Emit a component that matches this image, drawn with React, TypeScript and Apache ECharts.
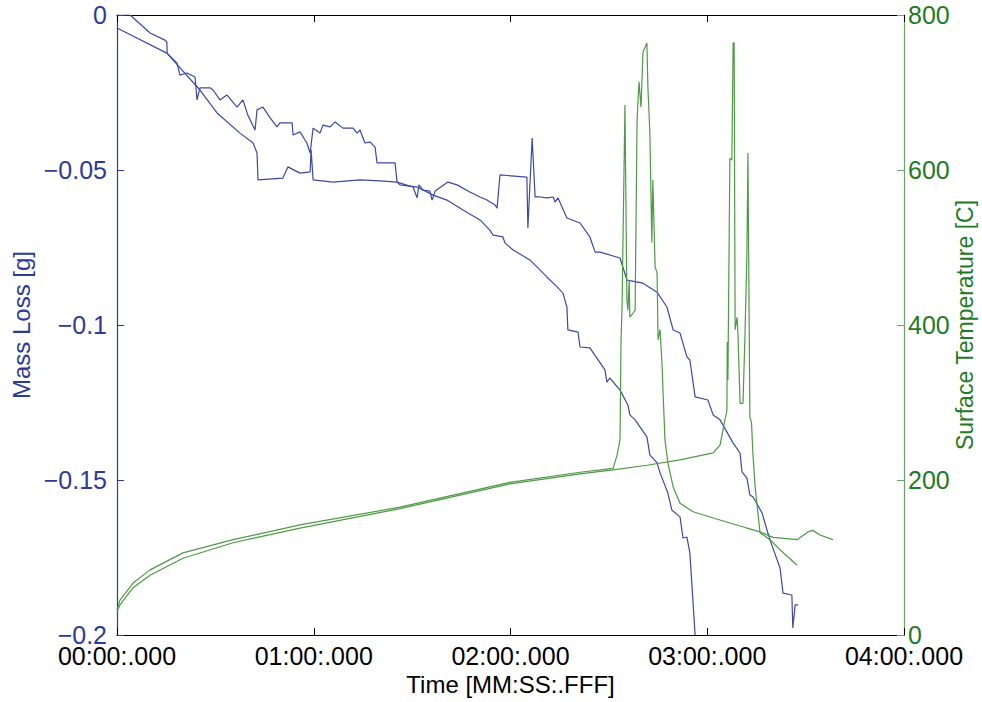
import React, { useEffect, useRef } from "react";
import * as echarts from "echarts";

// Time in seconds, mass loss in g
const massRunA: [number, number][] = [
  [0, -0.0042], [15.2, -0.0123], [25.3, -0.0242], [30.5, -0.0316], [37.5, -0.0381],
  [41.5, -0.0413], [42.7, -0.0445], [43.0, -0.0532], [50.6, -0.0526], [52.1, -0.049],
  [55.8, -0.051], [58.9, -0.0506], [59.2, -0.0435], [59.8, -0.0532], [65.9, -0.0539],
  [74.1, -0.0532], [80.2, -0.0535], [85.4, -0.0539], [86.3, -0.0548], [91.5, -0.0555],
  [96.4, -0.0581], [100.6, -0.0597], [105.5, -0.0629], [110.7, -0.0661], [113.7, -0.0694],
  [114.7, -0.071], [117.7, -0.0716], [118.3, -0.0735], [120.8, -0.0758], [125.9, -0.079],
  [131.1, -0.0845], [134.2, -0.0877], [136.0, -0.0897], [137.2, -0.0942], [137.5, -0.1016],
  [140.6, -0.1023], [141.2, -0.1071], [144.2, -0.1074], [148.8, -0.1145], [149.4, -0.1184],
  [150.3, -0.1171], [153.4, -0.121], [155.8, -0.1258], [156.4, -0.129], [158.0, -0.1306],
  [161.6, -0.1361], [162.5, -0.1419], [164.7, -0.1445], [165.6, -0.1477], [168.0, -0.1542],
  [169.2, -0.1597], [171.7, -0.1619], [172.6, -0.1687], [173.8, -0.1684], [174.7, -0.1735],
  [176.3, -0.2],
];

const massRunB: [number, number][] = [
  [0, 0], [4.0, 0], [10.1, -0.0058], [14.6, -0.0081], [15.2, -0.0087], [15.3, -0.0123],
  [18.3, -0.0155], [19.2, -0.0194], [21.3, -0.0187], [23.8, -0.02], [24.4, -0.0274],
  [25.3, -0.0235], [28.4, -0.0235], [29.3, -0.0242], [31.4, -0.0274], [33.5, -0.0258],
  [36.6, -0.0297], [38.4, -0.0274], [39.9, -0.0323], [42.1, -0.0371], [42.7, -0.0306],
  [44.5, -0.0297], [46.7, -0.0332], [48.8, -0.0361], [49.7, -0.0348], [53.4, -0.0348],
  [53.7, -0.0387], [55.8, -0.0377], [57.9, -0.0413], [58.9, -0.0445], [59.8, -0.0365],
  [61.9, -0.0381], [62.8, -0.0355], [65.0, -0.0361], [66.5, -0.0345], [68.9, -0.0365],
  [72.0, -0.0365], [73.2, -0.0381], [74.1, -0.0371], [75.6, -0.0413], [77.2, -0.041],
  [78.7, -0.0426], [79.3, -0.0477], [84.8, -0.0477], [85.4, -0.0539], [90.3, -0.0555],
  [91.5, -0.059], [92.1, -0.0548], [93.3, -0.0565], [95.4, -0.0568], [96.1, -0.0597],
  [97.0, -0.0568], [100.9, -0.0539], [103.7, -0.0548], [107.6, -0.0571], [110.7, -0.0587],
  [112.8, -0.0597], [115.3, -0.0613], [115.9, -0.0623], [116.8, -0.0516], [125.0, -0.0523],
  [125.3, -0.0687], [126.6, -0.0397], [127.5, -0.0587], [129.0, -0.0587], [131.1, -0.059],
  [133.0, -0.0587], [133.6, -0.0603], [134.5, -0.059], [137.2, -0.0655], [141.2, -0.0671],
  [144.2, -0.0716], [145.8, -0.0765], [147.3, -0.0765], [153.4, -0.0784], [155.5, -0.0855],
  [160.4, -0.0865], [164.7, -0.0894], [167.7, -0.0942], [169.6, -0.1016], [171.7, -0.1026],
  [173.8, -0.1103], [174.7, -0.1113], [176.3, -0.1232], [180.2, -0.1242], [181.8, -0.129],
  [183.9, -0.1306], [187.9, -0.1381], [190.0, -0.1413], [190.6, -0.1474], [192.1, -0.1494],
  [193.0, -0.1548], [194.0, -0.1555], [196.7, -0.1606], [198.5, -0.1671], [199.7, -0.171],
  [202.2, -0.1784], [203.1, -0.1865], [205.8, -0.1871], [206.1, -0.1977], [206.8, -0.1903],
  [207.7, -0.1903],
];

// Time in seconds, surface temperature in C
const tempRunA: [number, number][] = [
  [0, 32], [0.9, 45], [4.9, 67], [10.1, 84], [20.1, 106], [35.4, 123], [55.8, 142],
  [86.3, 165], [119.8, 197], [141.2, 210], [151.3, 215], [152.5, 232], [153.4, 252],
  [153.7, 381], [154.0, 419], [154.9, 684], [155.5, 432], [155.8, 419], [156.2, 458],
  [156.4, 410], [158.0, 419], [158.6, 665], [159.2, 714], [159.8, 681], [160.4, 752],
  [161.6, 764], [161.9, 707], [162.5, 648], [163.1, 506], [163.4, 587], [164.1, 475],
  [164.7, 467], [165.0, 381], [165.6, 394], [166.2, 351], [166.5, 316], [167.1, 252],
  [168.0, 222], [169.6, 191], [171.7, 170], [175.7, 159], [181.8, 151], [192.1, 138],
  [196.1, 133], [200.1, 126], [207.4, 123], [210.7, 133], [212.2, 135], [214.4, 129],
  [218.3, 123],
];

const tempRunB: [number, number][] = [
  [0, 30], [0.9, 39], [4.9, 61], [10.1, 77], [20.1, 99], [35.4, 119], [55.8, 138],
  [86.3, 163], [119.8, 195], [141.2, 208], [151.3, 213], [161.6, 219], [171.7, 226],
  [181.8, 235], [183.9, 245], [184.8, 265], [186.0, 290], [186.1, 378], [186.3, 329],
  [186.9, 615], [187.5, 613], [187.9, 764], [188.2, 764], [188.5, 394], [189.1, 410],
  [189.4, 385], [190.0, 299], [190.9, 299], [191.5, 385], [192.1, 493], [192.4, 622],
  [193.0, 281], [193.5, 274], [193.9, 235], [194.6, 191], [196.1, 132], [199.1, 123],
  [202.2, 110], [207.4, 90],
];

const FONT = "'Liberation Sans', Arial, Helvetica, sans-serif";
const BLUE = "#3c48a6";
const BLUE_TXT = "#2c3a9a";
const GREEN = "#4e9a45";
const GREEN_TXT = "#1f7a24";
const GREEN_AXIS = "#6f9f6a";

function fmtTime(v: number): string {
  const m = Math.floor(v / 60);
  const s = Math.round(v - m * 60);
  const p = (n: number) => (n < 10 ? "0" + n : "" + n);
  return p(m) + ":" + p(s) + ":.000";
}

function fmtMass(v: number): string {
  const n = parseFloat(v.toFixed(3));
  if (n === 0) return "0";
  return (n < 0 ? "\u2212" : "") + String(Math.abs(n));
}

export default function App() {
  const ref = useRef<HTMLDivElement>(null);
  useEffect(() => {
    document.body.style.margin = "0";
    if (!ref.current) return;
    const chart = echarts.init(ref.current, undefined, { renderer: "svg", width: 982, height: 702 });
    chart.setOption({
      animation: false,
      backgroundColor: "#ffffff",
      textStyle: { fontFamily: FONT },
      grid: { left: 117, right: 78, top: 15, bottom: 67, containLabel: false, outerBoundsMode: "none" },
      xAxis: [
        {
          type: "value",
          min: 0,
          max: 240,
          interval: 60,
          position: "bottom",
          name: "Time [MM:SS:.FFF]",
          nameLocation: "middle",
          nameGap: 37,
          nameMoveOverlap: false,
          nameTextStyle: { color: "#000", fontSize: 24, fontFamily: FONT },
          axisLine: { show: true, onZero: false, lineStyle: { color: "#000", width: 1.2 } },
          axisTick: { show: true, inside: true, length: 7, lineStyle: { color: "#000" } },
          axisLabel: { color: "#000", fontSize: 25, margin: 8, formatter: fmtTime, fontFamily: FONT },
          splitLine: { show: false },
        },
        {
          type: "value",
          min: 0,
          max: 240,
          interval: 60,
          position: "top",
          axisLine: { show: true, onZero: false, lineStyle: { color: "#000", width: 1.2 } },
          axisTick: { show: true, inside: true, length: 7, lineStyle: { color: "#000" } },
          axisLabel: { show: false },
          splitLine: { show: false },
        },
      ],
      yAxis: [
        {
          type: "value",
          min: -0.2,
          max: 0,
          interval: 0.05,
          position: "left",
          name: "Mass Loss [g]",
          nameLocation: "middle",
          nameGap: 84,
          nameMoveOverlap: false,
          nameTextStyle: { color: BLUE_TXT, fontSize: 24, fontFamily: FONT },
          axisLine: { show: true, onZero: false, lineStyle: { color: BLUE_TXT, width: 1.2 } },
          axisTick: { show: true, inside: true, length: 7, lineStyle: { color: BLUE_TXT } },
          axisLabel: { color: BLUE_TXT, fontSize: 25, margin: 10, formatter: fmtMass, fontFamily: FONT },
          splitLine: { show: false },
        },
        {
          type: "value",
          min: 0,
          max: 800,
          interval: 200,
          position: "right",
          name: "Surface Temperature [C]",
          nameLocation: "middle",
          nameGap: 49,
          nameMoveOverlap: false,
          nameTextStyle: { color: GREEN_TXT, fontSize: 23, fontFamily: FONT },
          axisLine: { show: true, onZero: false, lineStyle: { color: GREEN_AXIS, width: 1.2 } },
          axisTick: { show: true, inside: true, length: 7, lineStyle: { color: GREEN_AXIS } },
          axisLabel: { color: GREEN_TXT, fontSize: 25, margin: 4, fontFamily: FONT },
          splitLine: { show: false },
        },
      ],
      series: [
        {
          type: "line", name: "Mass A", xAxisIndex: 0, yAxisIndex: 0, data: massRunA,
          showSymbol: false, symbol: "none", lineStyle: { color: BLUE, width: 1.2 },
        },
        {
          type: "line", name: "Mass B", xAxisIndex: 0, yAxisIndex: 0, data: massRunB,
          showSymbol: false, symbol: "none", lineStyle: { color: BLUE, width: 1.2 },
        },
        {
          type: "line", name: "Temp A", xAxisIndex: 0, yAxisIndex: 1, data: tempRunA,
          showSymbol: false, symbol: "none", lineStyle: { color: GREEN, width: 1.2 },
        },
        {
          type: "line", name: "Temp B", xAxisIndex: 0, yAxisIndex: 1, data: tempRunB,
          showSymbol: false, symbol: "none", lineStyle: { color: GREEN, width: 1.2 },
        },
      ],
    });
    return () => chart.dispose();
  }, []);
  return <div ref={ref} style={{ width: 982, height: 702, background: "#fff" }} />;
}
